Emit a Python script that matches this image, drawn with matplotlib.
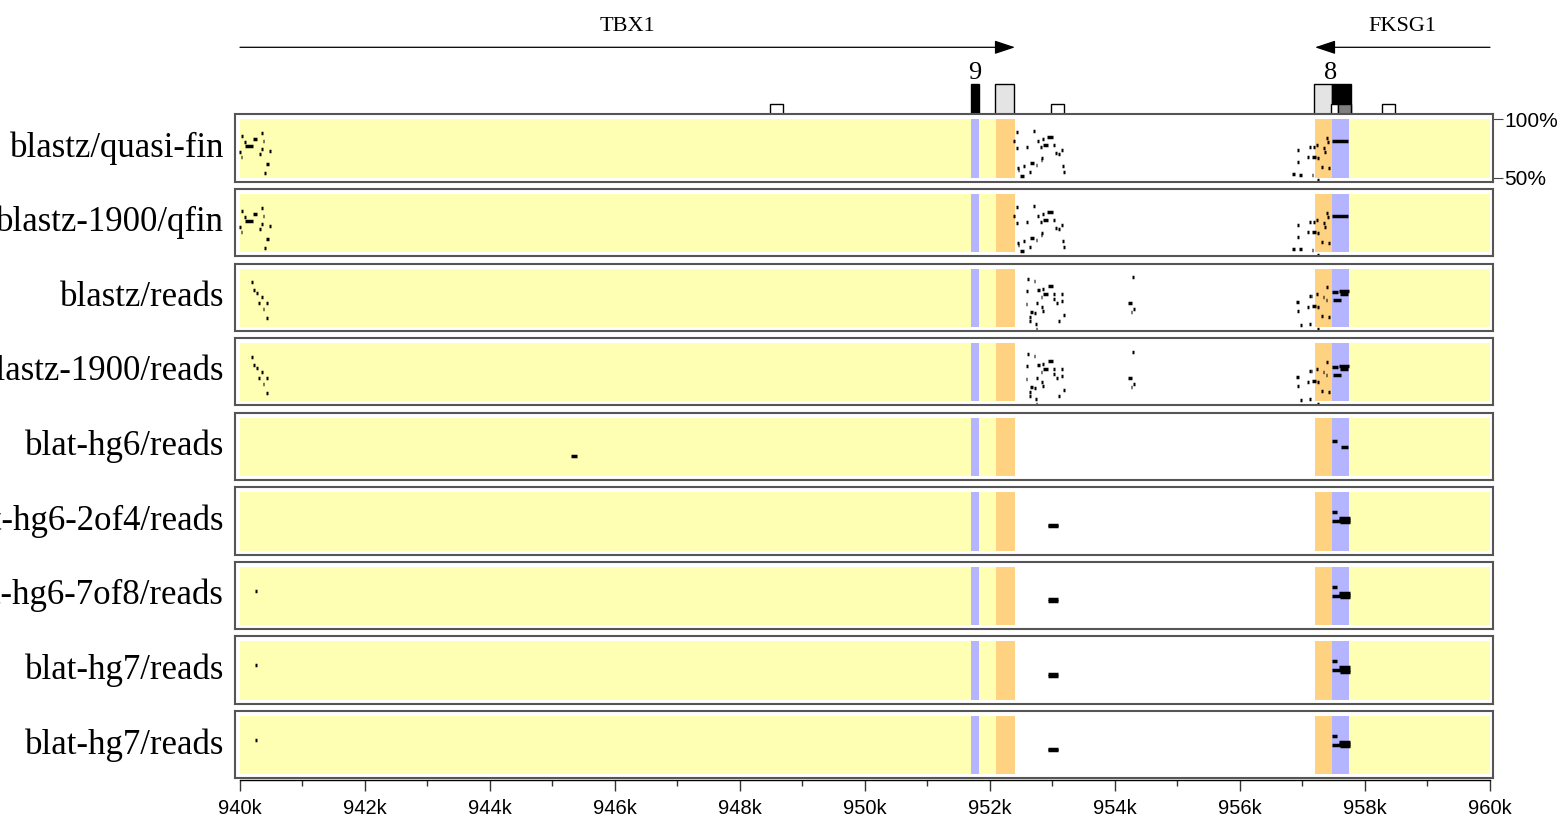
import matplotlib
matplotlib.use('Agg')
import matplotlib.pyplot as plt
from matplotlib.patches import Rectangle

W, H = 1563, 822

# row names, top to bottom
rows = ['blastz/quasi-fin', 'blastz-1900/qfin', 'blastz/reads', 'blastz-1900/reads',
        'blat-hg6/reads', 'blat-hg6-2of4/reads', 'blat-hg6-7of8/reads',
        'blat-hg7/reads', 'blat-hg7/reads']

# shaded bands (kb)
band_start = [940.00, 951.70, 951.83, 952.10, 957.20, 957.47, 957.75]
band_end = [951.70, 951.83, 952.10, 952.40, 957.47, 957.75, 960.00]
band_kind = ['utr', 'exon', 'utr', 'cns', 'cns', 'exon', 'utr']

# genes (start, end, direction)
genes = ['TBX1', 'FKSG1']
gene_start = [940.0, 960.0]
gene_end = [952.4, 957.2]

# feature boxes on top track (kb)
feat_start = [948.48, 951.69, 952.08, 952.98, 957.19, 957.48, 957.46, 957.57, 958.27]
feat_end = [948.69, 951.82, 952.38, 953.18, 957.48, 957.78, 957.57, 957.78, 958.48]
feat_kind = ['small', 'tall', 'tall', 'small', 'tall', 'tall', 'small', 'small', 'small']
feat_fill = ['white', 'black', '#e4e4e4', 'white', '#e4e4e4', 'black', 'white', '#808080', 'white']
exon_nums = ['9', '8']
exon_pos = [951.76, 957.45]

# alignment segments: (start kb, end kb, percent identity)
qfin = [
    (940.02, 940.05, 85.7), (940.06, 940.09, 80.6), (940.08, 940.21, 77.1),
    (940.21, 940.27, 83.1), (940.34, 940.37, 88.3), (940.36, 940.39, 81.4),
    (940.33, 940.36, 74.6), (940.30, 940.33, 70.3), (940.47, 940.50, 72.9),
    (939.99, 940.02, 72.0), (940.01, 940.04, 67.7), (940.42, 940.46, 61.7),
    (940.39, 940.42, 54.0),
    (952.41, 952.44, 89.1), (952.37, 952.40, 81.4), (952.42, 952.45, 75.4),
    (952.69, 952.72, 90.0), (952.58, 952.61, 76.3), (952.75, 952.79, 81.4),
    (952.84, 952.87, 83.1), (952.91, 953.01, 84.8), (952.80, 952.83, 76.3),
    (952.85, 952.93, 78.0), (953.01, 953.04, 78.0), (953.14, 953.17, 73.7),
    (953.04, 953.07, 71.1), (953.09, 953.12, 70.3), (952.82, 952.85, 66.9),
    (952.82, 952.84, 65.2), (952.64, 952.70, 62.6), (952.73, 952.76, 60.9),
    (952.53, 952.56, 60.0), (952.43, 952.46, 58.3), (952.45, 952.47, 56.6),
    (952.48, 952.54, 51.5), (952.63, 952.66, 54.9), (953.16, 953.19, 60.0),
    (953.17, 953.20, 54.9),
    (957.38, 957.41, 84.0), (957.11, 957.14, 76.3), (957.17, 957.20, 76.3),
    (957.22, 957.25, 78.0), (957.33, 957.36, 75.4), (957.40, 957.43, 80.6),
    (957.35, 957.38, 72.0), (956.91, 956.95, 73.7), (957.07, 957.10, 67.7),
    (957.15, 957.22, 67.7), (957.24, 957.27, 66.9), (956.91, 956.94, 63.4),
    (957.30, 957.33, 59.2), (957.41, 957.44, 58.3), (956.83, 956.88, 53.2),
    (956.94, 957.00, 52.4), (957.15, 957.17, 52.3), (957.24, 957.27, 48.0),
    (957.47, 957.73, 81.4),
]

reads = [
    (940.17, 940.20, 88.4), (940.21, 940.24, 81.6), (940.25, 940.29, 79.0),
    (940.34, 940.37, 75.6), (940.29, 940.32, 70.5), (940.42, 940.45, 70.5),
    (940.36, 940.39, 65.3), (940.41, 940.44, 57.6),
    (952.59, 952.62, 91.0), (952.70, 952.72, 89.3), (952.76, 952.80, 81.6),
    (952.84, 952.87, 82.4), (952.93, 953.01, 85.0), (952.85, 952.93, 78.2),
    (952.81, 952.84, 75.6), (953.01, 953.04, 78.2), (953.14, 953.17, 78.2),
    (953.01, 953.04, 73.9), (953.06, 953.09, 70.5), (953.14, 953.17, 72.2),
    (952.58, 952.61, 80.7), (952.74, 952.77, 70.5), (952.58, 952.60, 69.6),
    (952.82, 952.85, 67.0), (952.84, 952.87, 63.6), (952.64, 952.69, 62.8),
    (952.70, 952.73, 61.9), (952.63, 952.65, 58.5), (952.63, 952.65, 55.0),
    (952.72, 952.75, 52.4), (952.74, 952.76, 48.2), (953.09, 953.12, 55.0),
    (953.17, 953.20, 60.2),
    (954.28, 954.30, 92.7), (954.21, 954.27, 70.5), (954.29, 954.32, 65.3),
    (954.26, 954.28, 62.8),
    (957.38, 957.41, 84.2), (957.11, 957.13, 76.5), (957.14, 957.16, 76.5),
    (957.22, 957.25, 78.2), (957.32, 957.35, 75.6), (957.37, 957.40, 73.0),
    (956.90, 956.94, 71.3), (957.07, 957.10, 67.0), (957.15, 957.22, 67.9),
    (957.24, 957.27, 67.0), (956.92, 956.94, 63.6), (957.29, 957.32, 59.3),
    (957.41, 957.44, 58.5), (956.96, 957.00, 51.6), (957.11, 957.13, 52.4),
    (957.24, 957.27, 48.2),
    (957.47, 957.57, 79.9), (957.58, 957.74, 80.7), (957.60, 957.73, 78.2),
    (957.49, 957.62, 73.0),
]

hg6 = [(945.30, 945.39, 67.2), (957.47, 957.55, 80.1), (957.61, 957.73, 74.9)]

hg_common = [
    (952.93, 953.08, 72.2), (952.93, 953.08, 70.8),
    (957.47, 957.55, 82.9), (957.47, 957.62, 75.5),
    (957.58, 957.76, 78.0), (957.58, 957.76, 76.0), (957.60, 957.76, 74.2),
]
hg_left = [(940.24, 940.28, 79.5)]

row_data = [qfin, qfin, reads, reads, hg6,
            hg_common, hg_left + hg_common, hg_left + hg_common, hg_left + hg_common]

colors = {'utr': '#ffffb4', 'exon': '#b4b4ff', 'cns': '#ffd282'}

# pixel layout helpers
X0, X1 = 235, 1493
XLIM = (940 + (X0 - 240) / 62.5, 940 + (X1 - 240) / 62.5)


def rect(x0, y0, x1, y1):
    return [x0 / W, 1 - y1 / H, (x1 - x0) / W, (y1 - y0) / H]


fig = plt.figure(figsize=(W / 100, H / 100), dpi=100)

# top gene track
top = fig.add_axes(rect(X0, 0, X1, 114.3))
top.set_xlim(XLIM)
top.set_ylim(0, 114.3)
top.axis('off')
for name, s, e in zip(genes, gene_start, gene_end):
    top.annotate('', xy=(e, 67), xytext=(s, 67),
                 arrowprops=dict(arrowstyle='-|>,head_length=0.9,head_width=0.3',
                                 color='black', lw=0.9, shrinkA=0, shrinkB=0,
                                 mutation_scale=14))
    top.text((s + e) / 2, 88, name, ha='center', va='center',
             family='Liberation Serif', fontsize=16)
for s, e, k, c in zip(feat_start, feat_end, feat_kind, feat_fill):
    h = 30 if k == 'tall' else 10
    top.add_patch(Rectangle((s, 0), e - s, h, facecolor=c, edgecolor='black', lw=1))
for t, p in zip(exon_nums, exon_pos):
    top.text(p, 41, t, ha='center', va='center', family='Liberation Serif', fontsize=19)

# alignment panels
for i, (name, segs) in enumerate(zip(rows, row_data)):
    y0 = 114.3 + 74.6 * i
    ax = fig.add_axes(rect(X0, y0, X1, y0 + 67.4))
    ax.set_xlim(XLIM)
    ax.set_ylim(50 - 4 / 1.168, 100 + 5 / 1.168)
    for s, e, k in zip(band_start, band_end, band_kind):
        ax.fill_between([s, e], 50, 100, color=colors[k], lw=0)
    ax.hlines([p for _, _, p in segs], [s for s, _, _ in segs], [e for _, e, _ in segs],
              color='black', lw=2.5, capstyle='butt')
    for sp in ax.spines.values():
        sp.set_color('#555555')
        sp.set_linewidth(1.5)
    ax.set_xticks([])
    if i == 0:
        ax.yaxis.tick_right()
        ax.set_yticks([50, 100])
        ax.set_yticklabels(['50%', '100%'], family='Liberation Sans', fontsize=15)
        ax.tick_params(axis='y', length=7.5, width=0.8, color='#444444', pad=0.5)
    else:
        ax.set_yticks([])
    ax.text(-11 / (X1 - X0), 0.5, name, transform=ax.transAxes, ha='right', va='center',
            family='Liberation Serif', fontsize=25)

# bottom position axis
bx = fig.add_axes(rect(X0, 770, X1, 780))
bx.set_xlim(XLIM)
bx.set_yticks([])
for k in ['top', 'left', 'right']:
    bx.spines[k].set_visible(False)
bx.patch.set_visible(False)
bx.spines['bottom'].set_bounds(940, 960)
bx.spines['bottom'].set_linewidth(1)
bx.set_xticks(range(940, 961, 2))
bx.set_xticklabels([f'{v}k' for v in range(940, 961, 2)], family='Liberation Sans', fontsize=14.5)
bx.set_xticks(range(941, 960, 2), minor=True)
bx.tick_params(axis='x', which='major', length=8, width=1, color='#333333', pad=6)
bx.tick_params(axis='x', which='minor', length=4.3, width=1, color='#333333')

fig.savefig('out.png', dpi=100)
